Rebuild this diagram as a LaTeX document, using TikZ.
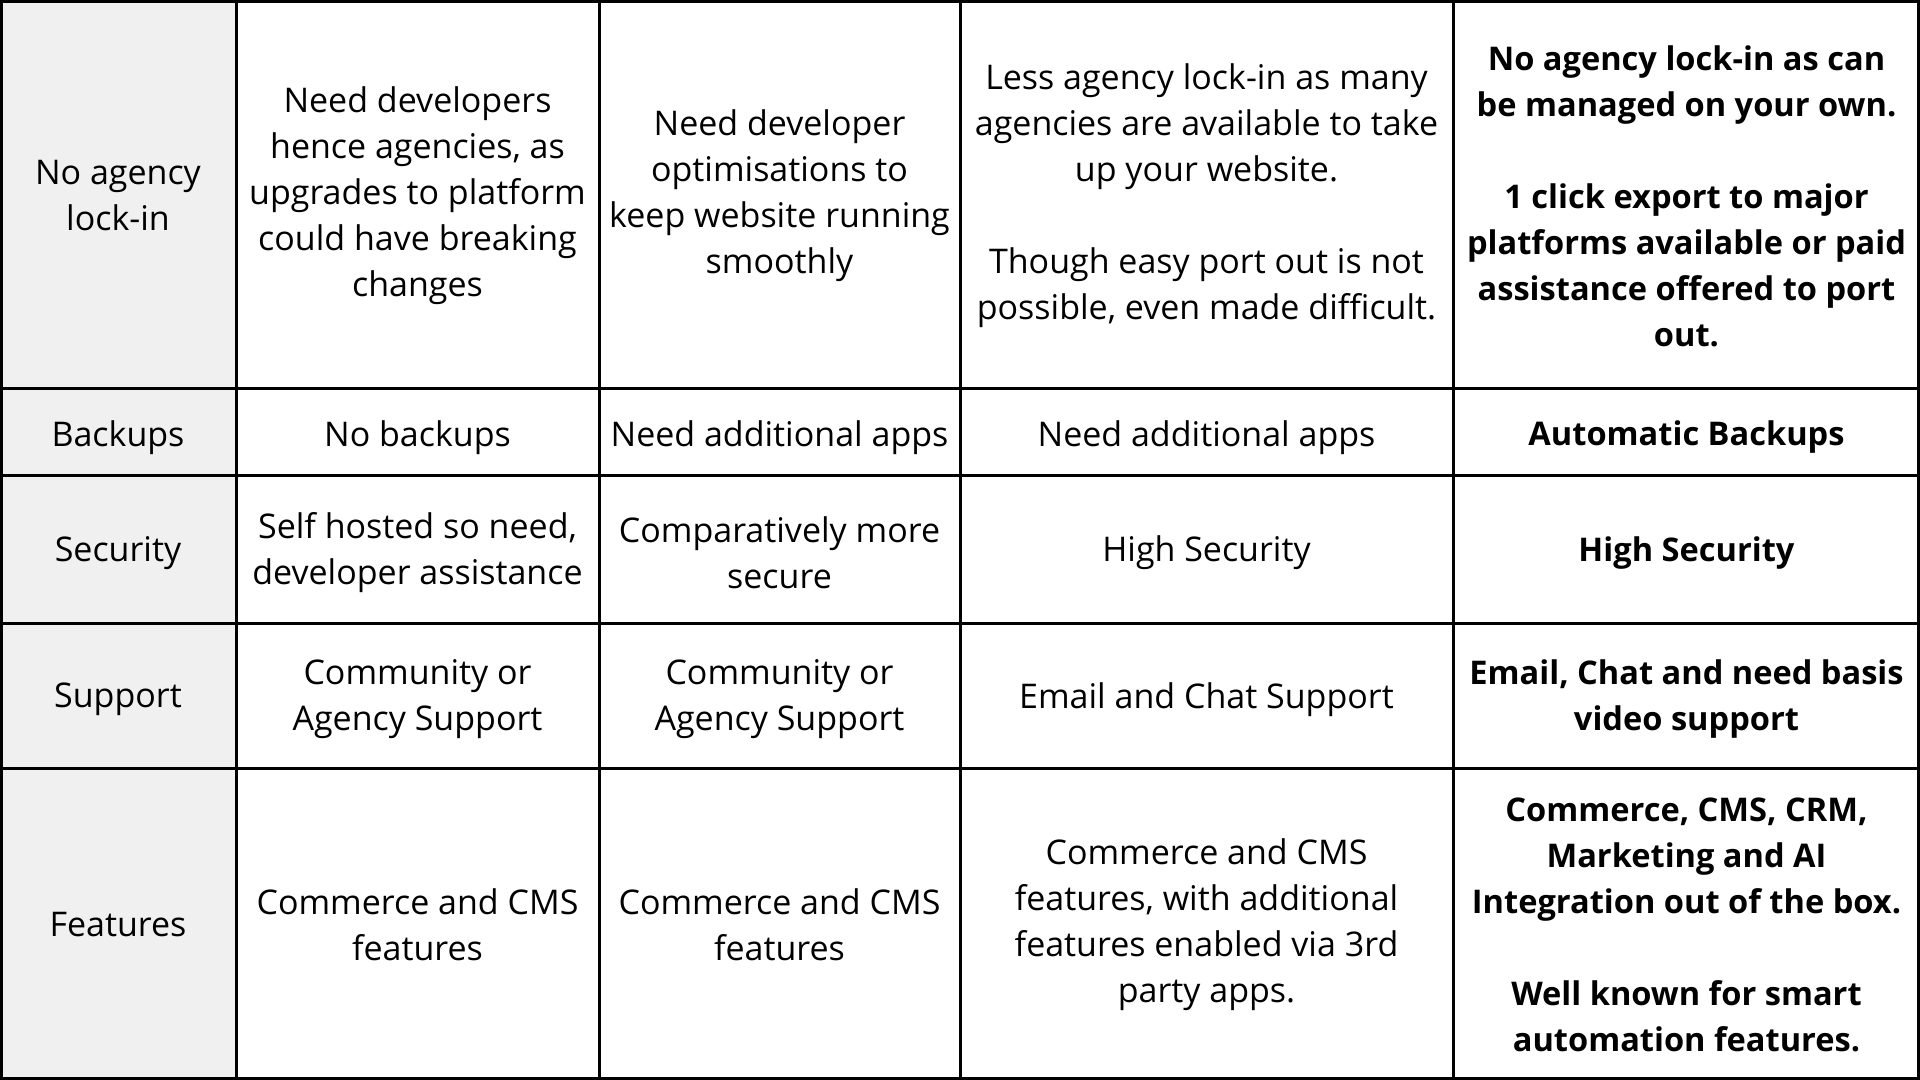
\documentclass[tikz,border=0pt]{standalone}
\usepackage{fontspec}
\setmainfont{Open Sans}[Ligatures=NoCommon]
\definecolor{headgray}{HTML}{F0F0F0}
\tikzset{
  cell/.style={align=center, inner sep=0pt, text=black,
    font=\fontsize{17}{23}\selectfont},
  boldcell/.style={cell, font=\fontsize{16.3}{23}\selectfont\bfseries},
  grid/.style={line width=1.5pt, draw=black}
}
\begin{document}
\begin{tikzpicture}[x=0.5pt,y=-0.5pt]
\useasboundingbox (0,0) rectangle (1920,1080);
\fill[white] (0,0) rectangle (1920,1080);
\fill[headgray] (0,0) rectangle (236,1080);
% grid
\draw[grid] (1.5,1.5) rectangle (1918.5,1078.5);
\foreach \x in {236,599,960,1453} \draw[grid] (\x,0) -- (\x,1080);
\foreach \y in {388,475,623,768} \draw[grid] (0,\y) -- (1920,\y);
% row 1
\node[cell] (h1) at (118,196) {No agency\\lock-in};
\node[cell] (a1) at (417.5,196) {Need developers\\hence agencies, as\\upgrades to platform\\could have breaking\\changes};
\node[cell] (b1) at (779.5,196) {Need developer\\optimisations to\\keep website running\\smoothly};
\node[cell] (c1) at (1206.5,196) {Less agency lock-in as many\\agencies are available to take\\up your website.\\~\\Though easy port out is not\\possible, even made difficult.};
\node[boldcell] (d1) at (1686.5,196) {No agency lock-in as can\\be managed on your own.\\~\\1 click export to major\\platforms available or paid\\assistance offered to port\\out.};
% row 2
\node[cell] (h2) at (118,437.5) {Backups};
\node[cell] (a2) at (417.5,437.5) {No backups};
\node[cell] (b2) at (779.5,437.5) {Need additional apps};
\node[cell] (c2) at (1206.5,437.5) {Need additional apps};
\node[boldcell] (d2) at (1686.5,437.5) {Automatic Backups};
% row 3
\node[cell] (h3) at (118,553) {Security};
\node[cell] (a3) at (417.5,553) {Self hosted so need,\\developer assistance};
\node[cell] (b3) at (779.5,553) {Comparatively more\\secure};
\node[cell] (c3) at (1206.5,553) {High Security};
\node[boldcell] (d3) at (1686.5,553) {High Security};
% row 4
\node[cell] (h4) at (118,699.5) {Support};
\node[cell] (a4) at (417.5,699.5) {Community or\\Agency Support};
\node[cell] (b4) at (779.5,699.5) {Community or\\Agency Support};
\node[cell] (c4) at (1206.5,699.5) {Email and Chat Support};
\node[boldcell] (d4) at (1686.5,699.5) {Email, Chat and need basis\\video support};
% row 5
\node[cell] (h5) at (118,925) {Features};
\node[cell] (a5) at (417.5,925) {Commerce and CMS\\features};
\node[cell] (b5) at (779.5,925) {Commerce and CMS\\features};
\node[cell] (c5) at (1206.5,925) {Commerce and CMS\\features, with additional\\features enabled via 3rd\\party apps.};
\node[boldcell] (d5) at (1686.5,925) {Commerce, CMS, CRM,\\Marketing and AI\\Integration out of the box.\\~\\Well known for smart\\automation features.};
\end{tikzpicture}
\end{document}
